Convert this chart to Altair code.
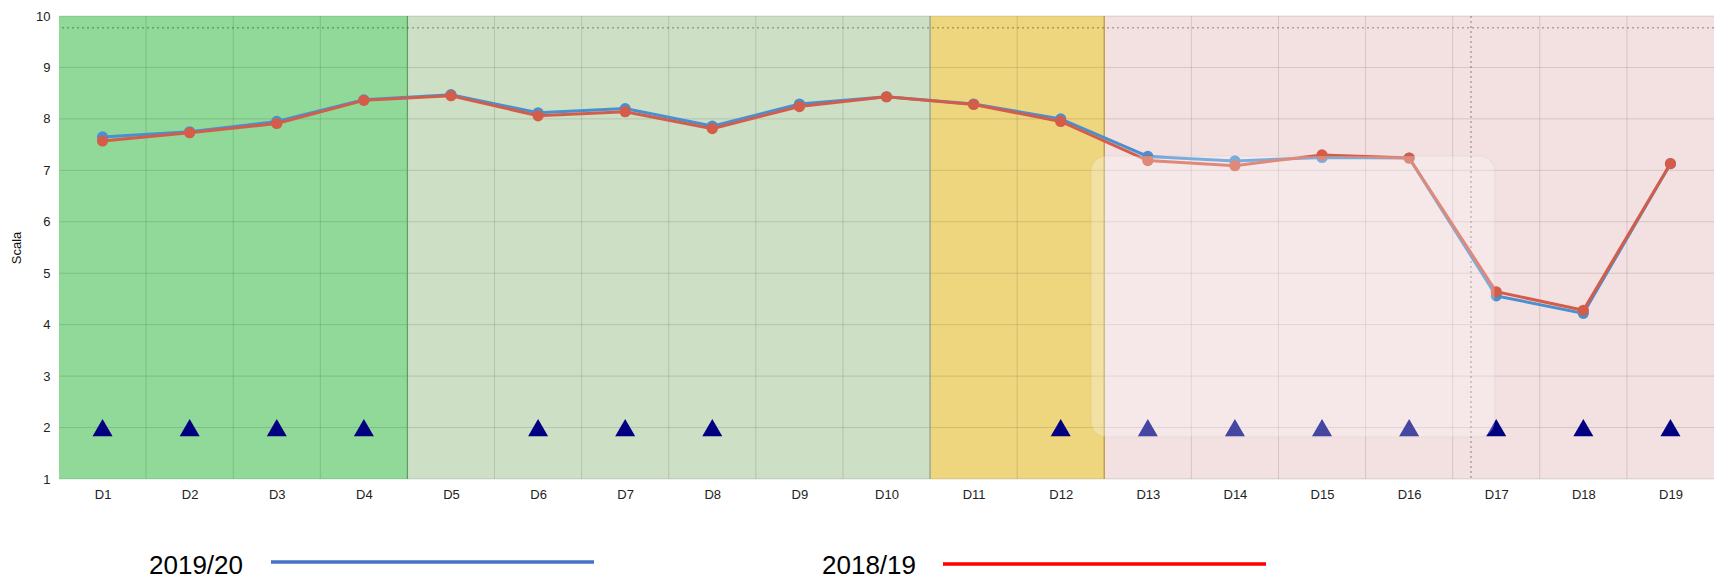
import altair as alt
import pandas as pd

# ---------------- data ----------------
days = [f"D{i}" for i in range(1, 20)]
season_2019_20 = [7.65, 7.75, 7.95, 8.37, 8.47, 8.12, 8.20, 7.86, 8.29, 8.43,
                  8.29, 8.00, 7.27, 7.18, 7.25, 7.24, 4.56, 4.22, 7.13]
season_2018_19 = [7.57, 7.73, 7.91, 8.36, 8.45, 8.06, 8.14, 7.81, 8.24, 8.43,
                  8.28, 7.95, 7.19, 7.09, 7.30, 7.24, 4.64, 4.28, 7.13]
marker_days = ["D1", "D2", "D3", "D4", "D6", "D7", "D8", "D12", "D13", "D14",
               "D15", "D16", "D17", "D18", "D19"]
marker_level = [2] * len(marker_days)

zone_names = ["z1", "z2", "z3", "z4"]
zone_start = [0, 4, 10, 12]
zone_end = [4, 10, 12, 19]
zone_colors = ["#90d999", "#cddfc5", "#eed67f", "#f3e0e1"]
zone_edges = [4, 10, 12]
zone_edge_colors = ["#5c9e64", "#93a893", "#b89c3c"]

y_ticks = [1, 2, 3, 4, 5, 6, 7, 8, 9, 10]
threshold = [9.77]
cut_position = [16.21]
box_x = [11.85]
box_x2 = [16.48]
box_y = [7.28]
box_y2 = [1.82]

legend_labels = ["2019/20", "2018/19"]
legend_colors = ["#4472c4", "#ff0000"]
series_colors = ["#4a8fd0", "#d45d4a"]

# ---------------- layout ----------------
W, H = 1655, 463
FONT = "Liberation Sans"

pos = [i + 0.5 for i in range(len(days))]
day_pos = dict(zip(days, pos))

lines_df = pd.DataFrame({
    "pos": pos * 2,
    "day": days * 2,
    "value": season_2019_20 + season_2018_19,
    "season": [legend_labels[0]] * len(days) + [legend_labels[1]] * len(days),
})
markers_df = pd.DataFrame({"pos": [day_pos[d] for d in marker_days], "value": marker_level})
zones_df = pd.DataFrame({"zone": zone_names, "start": zone_start, "end": zone_end, "c": zone_colors})
edges_df = pd.DataFrame({"x": zone_edges, "c": zone_edge_colors})
vgrid_df = pd.DataFrame({"x": list(range(1, len(days)))})
hgrid_df = pd.DataFrame({"y": y_ticks})

xscale = alt.Scale(domain=[0, len(days)], nice=False, zero=False)
yscale = alt.Scale(domain=[1, 10], nice=False, zero=False)

x_axis = alt.Axis(values=pos, labelExpr="'D' + (datum.value + 0.5)", grid=False,
                  ticks=False, domain=False, labelFontSize=13, labelFont=FONT,
                  labelColor="#222", labelPadding=9, labelFlush=False, title=None)
y_axis = alt.Axis(values=y_ticks, grid=False, ticks=False, domain=False,
                  labelFontSize=13, labelFont=FONT, labelColor="#222", labelPadding=9,
                  title="Scala", titleFont=FONT, titleFontSize=13, titleFontWeight="normal",
                  titleColor="#111", titleX=-43, titleY=H / 2, titleAlign="center",
                  titleBaseline="middle", titleAngle=-90)

base = alt.Chart(lines_df)

zones = alt.Chart(zones_df).mark_rect(opacity=1).encode(
    x=alt.X("start:Q", scale=xscale, axis=x_axis),
    x2="end:Q",
    color=alt.Color("c:N", scale=None),
)

vgrid = alt.Chart(vgrid_df).mark_rule(color="#000", opacity=0.12, strokeWidth=1).encode(
    x=alt.X("x:Q", scale=xscale)
)
hgrid = alt.Chart(hgrid_df).mark_rule(color="#000", opacity=0.12, strokeWidth=1).encode(
    y=alt.Y("y:Q", scale=yscale, axis=y_axis)
)
edges = alt.Chart(edges_df).mark_rule(strokeWidth=1.2).encode(
    x=alt.X("x:Q", scale=xscale),
    color=alt.Color("c:N", scale=None),
)
thr = alt.Chart(pd.DataFrame({"y": threshold})).mark_rule(
    color="#000", opacity=0.28, strokeDash=[2, 3], strokeWidth=1.5
).encode(y=alt.Y("y:Q", scale=yscale))
cut = alt.Chart(pd.DataFrame({"x": cut_position})).mark_rule(
    color="#000", opacity=0.3, strokeDash=[2, 3], strokeWidth=1.5
).encode(x=alt.X("x:Q", scale=xscale))

layers_series = []
for s, col in zip(legend_labels, series_colors):
    sub = base.transform_filter(alt.datum.season == s)
    layers_series.append(sub.mark_line(strokeWidth=3, color=col).encode(
        x=alt.X("pos:Q", scale=xscale), y=alt.Y("value:Q", scale=yscale)))
    layers_series.append(sub.mark_circle(size=125, opacity=1, color=col).encode(
        x=alt.X("pos:Q", scale=xscale), y=alt.Y("value:Q", scale=yscale)))

tri = alt.Chart(markers_df).mark_point(shape="triangle-up", size=400, filled=True,
                                       color="#000080", opacity=1).encode(
    x=alt.X("pos:Q", scale=xscale), y=alt.Y("value:Q", scale=yscale))

box = alt.Chart(pd.DataFrame({"x": box_x, "x2": box_x2, "y": box_y, "y2": box_y2})).mark_rect(
    color="#ffffff", opacity=0.27, cornerRadius=15, stroke="#000", strokeOpacity=0.07, strokeWidth=2
).encode(x=alt.X("x:Q", scale=xscale), x2="x2:Q", y=alt.Y("y:Q", scale=yscale), y2="y2:Q")

leg_df = pd.DataFrame({"label": legend_labels, "color": legend_colors})
leg_text_x = [90, 763]
leg_line_x = [212, 884]
leg_line_x2 = [535, 1207]
leg_line_y = [546, 548]
legend_layers = []
for i, lab in enumerate(legend_labels):
    sub = alt.Chart(leg_df).transform_filter(alt.datum.label == lab)
    legend_layers.append(sub.mark_text(align="left", baseline="alphabetic", fontSize=26,
                                       font=FONT, color="#000").encode(
        text="label:N", x=alt.value(leg_text_x[i]), y=alt.value(558)))
    legend_layers.append(sub.mark_rule(strokeWidth=3.5).encode(
        x=alt.value(leg_line_x[i]), x2=alt.value(leg_line_x2[i]), y=alt.value(leg_line_y[i]),
        color=alt.Color("color:N", scale=None)))

chart = alt.layer(
    zones, vgrid, hgrid, edges, thr, cut, *layers_series, tri, box, *legend_layers
).properties(
    width=W, height=H, autosize="none",
    padding={"left": 51, "top": 8, "right": 0, "bottom": 102},
).configure_view(stroke=None)

chart.save("out.html", embed_options={"renderer": "svg", "actions": False})
